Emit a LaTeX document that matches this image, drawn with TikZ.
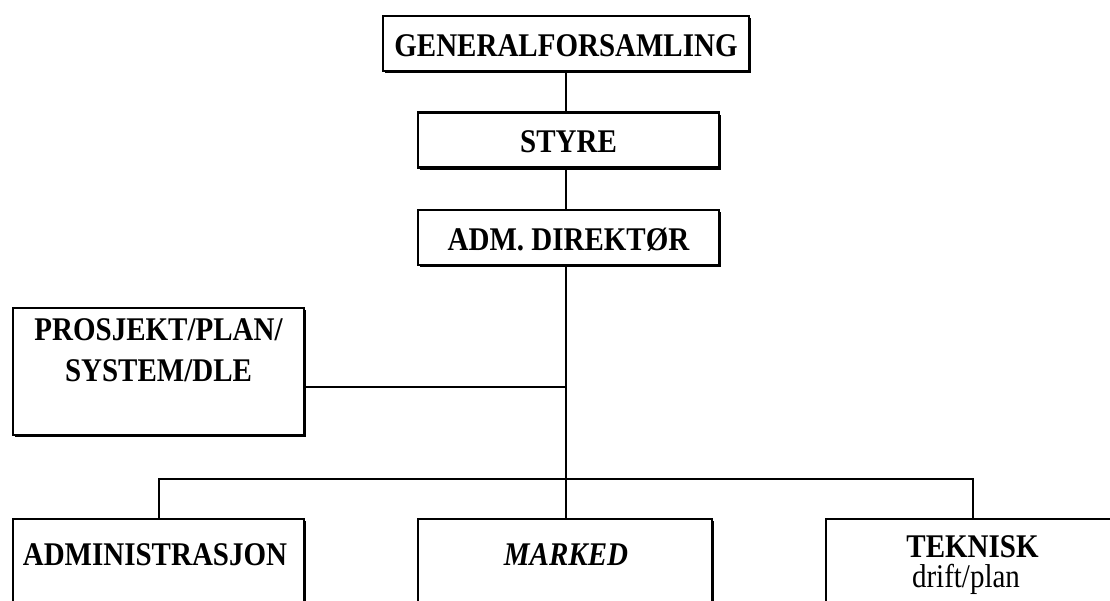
\documentclass[tikz,border=0pt]{standalone}
\usepackage{fontspec}
\usepackage{graphicx}
\setmainfont{Liberation Serif}
\usetikzlibrary{shadows}
\newcommand\vst[1]{\scalebox{1}[1.14]{#1}}
\begin{document}
\begin{tikzpicture}[x=1pt,y=-1pt,line width=2pt,
  box/.style={draw,fill=white,line width=2.5pt,inner sep=0pt,
    text height=26pt,text depth=0pt,
    font=\fontsize{29}{34}\selectfont\bfseries,
    drop shadow={shadow xshift=2.2pt,shadow yshift=-2.2pt,fill=black,opacity=1}},
  txt/.style={inner sep=0pt,anchor=base,font=\fontsize{29}{34}\selectfont\bfseries},
  plain/.style={inner sep=0pt,anchor=base,font=\fontsize{29}{34}\selectfont}]
\useasboundingbox (0,0) rectangle (1110,601);
\clip (0,0) rectangle (1110,601);
% top chain
\node[box,minimum width=366pt,minimum height=55pt] (gen) at (566,43.5) {\vst{GENERALFORSAMLING}};
\node[box,minimum width=301pt,minimum height=55pt] (styre) at (568.5,140) {\vst{STYRE}};
\node[box,minimum width=301pt,minimum height=55pt] (adm) at (568.5,237.5) {\vst{ADM. DIREKTØR}};
% staff box
\node[box,minimum width=291pt,minimum height=127pt] (prosj) at (158.5,371.5) {};
\node[txt] (prosjA) at (158.5,340) {\vst{PROSJEKT/PLAN/}};
\node[txt] (prosjB) at (158.5,381) {\vst{SYSTEM/DLE}};
% bottom boxes
\node[box,minimum width=291pt,minimum height=200pt] (admin) at (158.5,619) {};
\node[box,minimum width=294pt,minimum height=200pt] (marked) at (565,619) {};
\node[box,minimum width=294pt,minimum height=200pt] (tek) at (973,619) {};
\node[txt] (adminT) at (155,565) {\vst{ADMINISTRASJON}};
\node[txt,font=\fontsize{29}{34}\selectfont\bfseries\itshape] (markedT) at (566,565) {\vst{MARKED}};
\node[txt] (tekT) at (972.5,557) {\vst{TEKNISK}};
\node[plain] (tekS) at (966,587) {\vst{drift/plan}};
% connectors
\coordinate (bus) at (566,479);
\coordinate (side) at (566,387);
\draw (gen.south) -- (gen.south |- styre.north);
\draw (gen.south |- styre.south) -- (gen.south |- adm.north);
\draw (gen.south |- adm.south) -- (bus);
\draw (prosj.east |- side) -- (side);
\draw (admin.north) |- (bus);
\draw (bus) -| (tek.north);
\draw (bus) -- (bus |- marked.north);
\end{tikzpicture}
\end{document}
